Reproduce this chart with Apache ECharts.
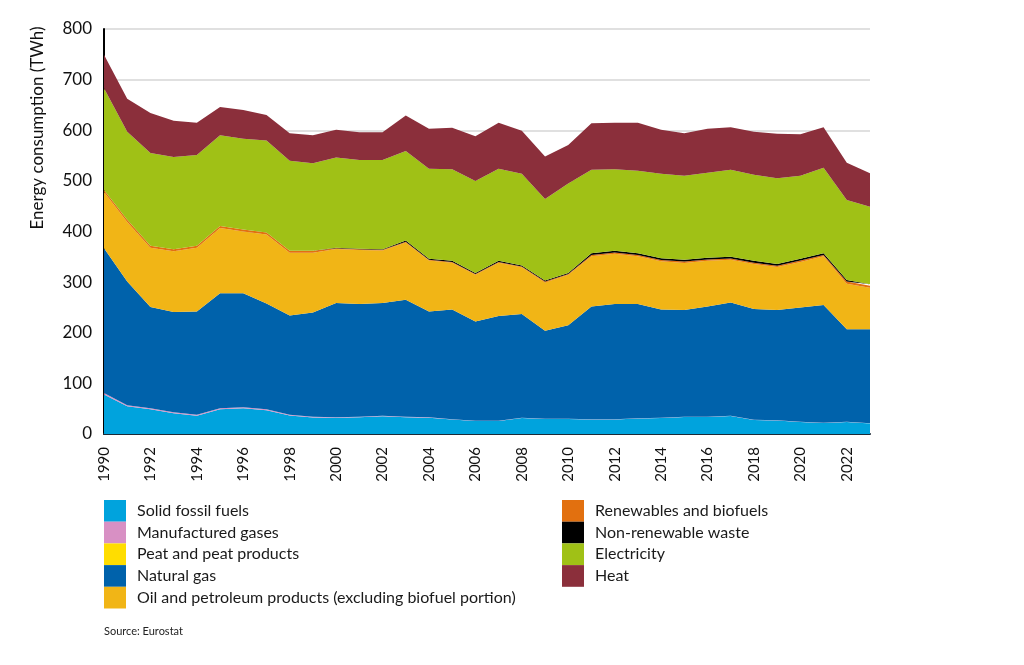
<!DOCTYPE html>
<html>
<head>
<meta charset="utf-8">
<script src="https://cdn.jsdelivr.net/npm/echarts@6/dist/echarts.min.js"></script>
<style>
  html, body { margin: 0; padding: 0; background: #fff; }
  #main { width: 1024px; height: 665px; }
</style>
</head>
<body>
<div id="main"></div>
<script>
// years on the x axis
const years = [];
for (let y = 1990; y <= 2023; y++) years.push(String(y));

// values in TWh
const solidFossil = [78, 55, 49, 41, 36, 49, 51, 47, 36.5, 32.5, 32, 33, 35, 33, 32, 28.5, 25.5, 25.5, 31.5, 29.5, 29.5, 28.5, 28.5, 30.5, 31.5, 33.5, 33.5, 35.5, 27.5, 26.5, 23.5, 21.5, 23.5, 20.5];
const manufGases = [3, 2, 2, 2, 2, 2, 2, 2, 1.5, 1.5, 1, 1, 1, 1, 1, 0.5, 0.5, 0.5, 0.5, 0.5, 0.5, 0.5, 0.5, 0.5, 0.5, 0.5, 0.5, 0.5, 0.5, 0.5, 0.5, 0.5, 0.5, 0.5];
const peat = [0, 0, 0, 0, 0, 0, 0, 0, 0, 0, 0, 0, 0, 0, 0, 0, 0, 0, 0, 0, 0, 0, 0, 0, 0, 0, 0, 0, 0, 0, 0, 0, 0, 0];
const naturalGas = [286, 244, 200, 198, 204, 227, 225, 209, 196, 206, 226, 223, 223, 231, 209, 217, 196, 207, 205, 174, 185, 223, 228, 226, 214, 211, 218, 224, 219, 218, 226, 233, 183, 186];
const oil = [111, 118, 117, 120, 126, 129, 122, 136, 124, 118, 106.5, 106.5, 103.5, 113.5, 100.5, 92.5, 92.5, 105.5, 92.5, 95.5, 99.5, 99, 99, 94, 95, 93, 90, 84, 89, 85, 90, 96, 90, 82];
const renewables = [4, 4, 4, 4, 4, 4, 4, 4, 4, 4, 1.5, 1.5, 1.5, 1.5, 1.5, 1.5, 1.5, 1.5, 1.5, 1.5, 1.5, 2.5, 2.5, 2.5, 2.5, 2.5, 2.5, 2.5, 2.5, 2.5, 2.5, 2.5, 4, 4];
const waste = [0, 0, 0, 0, 0, 0, 0, 0, 0, 0, 1, 1, 1, 2, 2, 2, 2, 2, 2, 2, 2, 3.5, 3.5, 3.5, 3.5, 3.5, 3.5, 3.5, 3.5, 3.5, 3.5, 3.5, 3, 3];
const electricity = [201, 174, 183, 182, 179, 179, 179, 182, 178, 173, 178, 175, 176, 177, 178, 181, 182, 182, 181, 161, 177, 165, 161, 163, 167, 166, 168, 172, 170, 169, 164, 169, 158, 153];
const heat = [66, 65, 79, 72, 64, 56, 57, 50, 54, 55, 55, 55, 55, 70, 79, 82, 88, 91, 85, 84, 76, 92, 92, 95, 87, 84, 87, 84, 85, 88, 82, 80, 74, 66];

const seriesNames = [
  'Solid fossil fuels',
  'Manufactured gases',
  'Peat and peat products',
  'Natural gas',
  'Oil and petroleum products (excluding biofuel portion)',
  'Renewables and biofuels',
  'Non-renewable waste',
  'Electricity',
  'Heat'
];
const seriesData = [solidFossil, manufGases, peat, naturalGas, oil, renewables, waste, electricity, heat];
const colors = ['#00a3dd', '#d890c4', '#ffdd00', '#0062ab', '#f1b516', '#e2700f', '#000000', '#a0c116', '#8b2f3b'];

const chart = echarts.init(document.getElementById('main'));

const series = seriesNames.map((name, i) => ({
  name: name,
  type: 'line',
  stack: 'total',
  data: seriesData[i],
  showSymbol: false,
  symbol: 'none',
  lineStyle: { width: 0 },
  itemStyle: { color: colors[i] },
  areaStyle: { color: colors[i], opacity: 1 },
  emphasis: { disabled: true }
}));

const legendBase = {
  orient: 'vertical',
  icon: 'rect',
  itemWidth: 22,
  itemHeight: 21.7,
  itemGap: 0,
  padding: 0,
  selectedMode: false,
  itemStyle: { borderWidth: 0 },
  textStyle: {
    fontFamily: 'Lato',
    fontSize: 16,
    color: '#1a1a1a',
    padding: [0, 0, 0, 6],
    lineHeight: 21.7
  }
};

const option = {
  animation: false,
  textStyle: { fontFamily: 'Lato' },
  grid: { left: 104, right: 154, top: 29, bottom: 231, containLabel: false },
  legend: [
    Object.assign({}, legendBase, { left: 104, top: 500, data: seriesNames.slice(0, 5) }),
    Object.assign({}, legendBase, { left: 562, top: 500, data: seriesNames.slice(5) })
  ],
  xAxis: {
    type: 'category',
    boundaryGap: false,
    data: years,
    axisLine: { show: true, lineStyle: { color: '#1c2a36', width: 2 } },
    axisTick: { show: false },
    axisLabel: {
      interval: 1,
      rotate: 90,
      margin: 13,
      fontSize: 15,
      color: '#111',
      fontFamily: 'Lato'
    },
    splitLine: { show: false }
  },
  yAxis: {
    type: 'value',
    min: 0,
    max: 800,
    interval: 100,
    axisLine: { show: true, lineStyle: { color: '#000', width: 2 } },
    axisTick: { show: false },
    axisLabel: { fontSize: 17, color: '#111', margin: 12, fontFamily: 'Lato' },
    splitLine: { show: true, lineStyle: { color: '#d6d6d6', width: 1.5 } }
  },
  graphic: [
    {
      type: 'text',
      x: 38,
      y: 128,
      rotation: Math.PI / 2,
      style: {
        text: 'Energy consumption (TWh)',
        fontFamily: 'Lato',
        fontSize: 17,
        fill: '#111',
        textAlign: 'center',
        textVerticalAlign: 'middle'
      }
    },
    {
      type: 'text',
      left: 104,
      top: 626,
      style: {
        text: 'Source: Eurostat',
        fontFamily: 'Lato',
        fontSize: 11,
        fill: '#222'
      }
    }
  ],
  series: series
};

chart.setOption(option);
</script>
</body>
</html>
